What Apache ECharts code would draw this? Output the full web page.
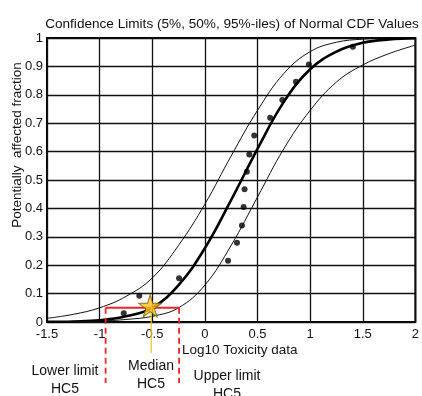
<!DOCTYPE html>
<html>
<head>
<meta charset="utf-8">
<script src="https://cdn.jsdelivr.net/npm/echarts@6/dist/echarts.min.js"></script>
<style>
  html, body { margin: 0; padding: 0; background: #fff; }
  #chart { width: 422px; height: 396px; }
</style>
</head>
<body>
<div id="chart"></div>
<script>
// x positions where the three curves were read (log10 toxicity)
var curveX = [-1.5, -1.25, -1, -0.75, -0.5, -0.25, 0, 0.25, 0.5, 0.75, 1, 1.25, 1.5, 1.75, 2];
// 95%-ile (left thin), 50%-ile (thick), 5%-ile (right thin)
var upperCdf  = [0.013, 0.027, 0.05, 0.09, 0.155, 0.27, 0.415, 0.585, 0.745, 0.875, 0.952, 0.985, 0.996, 0.999, 1.0];
var medianCdf = [0.0005, 0.002, 0.006, 0.02, 0.05, 0.13, 0.26, 0.43, 0.61, 0.775, 0.89, 0.952, 0.983, 0.995, 0.999];
var lowerCdf  = [0.0, 0.001, 0.003, 0.009, 0.02, 0.05, 0.13, 0.27, 0.44, 0.61, 0.745, 0.845, 0.905, 0.945, 0.975];

// observed toxicity data points
var dotsX = [-0.771, -0.623, -0.245, 0.220, 0.305, 0.352, 0.368, 0.377, 0.399, 0.422, 0.469, 0.620, 0.736, 0.865, 0.988, 1.406];
var dotsY = [0.031, 0.092, 0.154, 0.216, 0.279, 0.340, 0.405, 0.467, 0.529, 0.590, 0.657, 0.719, 0.782, 0.846, 0.907, 0.969];

// HC5 estimates
var hcLevel = 0.05;
var lowerHC5 = -0.943;
var medianHC5 = -0.51;
var upperHC5 = -0.245;
var lowerLimitY = -0.215;   // how far the red dashed guides drop below the axis
var medianLineY = -0.109;   // end of the yellow guide

var font = 'Liberation Sans, Arial, sans-serif';

function pairs(xs, ys) {
    var out = [];
    for (var i = 0; i < xs.length; i++) {
        out.push([xs[i], ys[i]]);
    }
    return out;
}

var myChart = echarts.init(document.getElementById('chart'));

var option = {
    animation: false,
    title: {
        text: 'Confidence Limits (5%, 50%, 95%-iles) of Normal CDF Values',
        left: 227,
        top: 12,
        textAlign: 'center',
        textStyle: {fontFamily: font, fontSize: 13.6, fontWeight: 'normal', color: '#111'}
    },
    grid: {
        left: 47, right: 4, top: 38, bottom: 74,
        show: true,
        borderColor: '#000',
        borderWidth: 2
    },
    xAxis: {
        type: 'value',
        min: -1.5,
        max: 2,
        interval: 0.5,
        axisLine: {show: false},
        axisTick: {show: false},
        splitLine: {lineStyle: {color: '#111', width: 1.3}},
        axisLabel: {fontFamily: font, fontSize: 13, color: '#111', margin: 6}
    },
    yAxis: {
        type: 'value',
        min: 0,
        max: 1,
        interval: 0.1,
        axisLine: {show: false},
        axisTick: {show: false},
        splitLine: {lineStyle: {color: '#111', width: 1.3}},
        axisLabel: {fontFamily: font, fontSize: 13, color: '#111', margin: 4}
    },
    graphic: [
        {
            type: 'text', x: 17, y: 145, rotation: Math.PI / 2,
            style: {text: 'Potentially  affected fraction', fontFamily: font, fontSize: 13.5,
                fill: '#111', align: 'center', verticalAlign: 'middle'}
        },
        {
            type: 'text', x: 182, y: 343,
            style: {text: 'Log10 Toxicity data', fontFamily: font, fontSize: 13.5, fill: '#111'}
        },
        {
            type: 'text', x: 65, y: 362,
            style: {text: 'Lower limit\nHC5', fontFamily: font, fontSize: 14, lineHeight: 18,
                fill: '#111', align: 'center'}
        },
        {
            type: 'text', x: 151, y: 357,
            style: {text: 'Median\nHC5', fontFamily: font, fontSize: 14, lineHeight: 18,
                fill: '#111', align: 'center'}
        },
        {
            type: 'text', x: 227, y: 367,
            style: {text: 'Upper limit\nHC5', fontFamily: font, fontSize: 14, lineHeight: 18,
                fill: '#111', align: 'center'}
        }
    ],
    series: [
        {
            name: '95%', type: 'line', smooth: 0.4, showSymbol: false,
            lineStyle: {color: '#111', width: 1},
            data: pairs(curveX, upperCdf)
        },
        {
            name: '50%', type: 'line', smooth: 0.4, showSymbol: false,
            lineStyle: {color: '#000', width: 2.6},
            data: pairs(curveX, medianCdf)
        },
        {
            name: '5%', type: 'line', smooth: 0.4, showSymbol: false,
            lineStyle: {color: '#111', width: 1},
            data: pairs(curveX, lowerCdf)
        },
        {
            name: 'data', type: 'scatter', symbolSize: 6,
            itemStyle: {color: '#000'},
            data: pairs(dotsX, dotsY)
        },
        {
            // red HC5 range
            type: 'line', showSymbol: false, clip: false, z: 5,
            lineStyle: {color: '#e8262b', width: 2},
            data: [[lowerHC5, hcLevel], [upperHC5, hcLevel]]
        },
        {
            type: 'line', showSymbol: false, clip: false, z: 5,
            lineStyle: {color: '#e8262b', width: 1.8, type: [6, 4]},
            data: [[lowerHC5, hcLevel], [lowerHC5, lowerLimitY]]
        },
        {
            type: 'line', showSymbol: false, clip: false, z: 5,
            lineStyle: {color: '#e8262b', width: 1.8, type: [6, 4]},
            data: [[upperHC5, hcLevel], [upperHC5, lowerLimitY]]
        },
        {
            type: 'line', showSymbol: false, clip: false, z: 5,
            lineStyle: {color: '#e6c619', width: 1.2},
            data: [[medianHC5, hcLevel], [medianHC5, medianLineY]]
        },
        {
            type: 'scatter', z: 6,
            symbol: 'path://M50,0 L61,35 L98,35 L68,57 L79,91 L50,70 L21,91 L32,57 L2,35 L39,35 Z',
            symbolSize: [23, 22],
            itemStyle: {color: '#ffc61a', borderColor: '#6a5410', borderWidth: 1},
            data: [[medianHC5 - 0.01, hcLevel + 0.007]]
        }
    ]
};

myChart.setOption(option);
</script>
</body>
</html>
